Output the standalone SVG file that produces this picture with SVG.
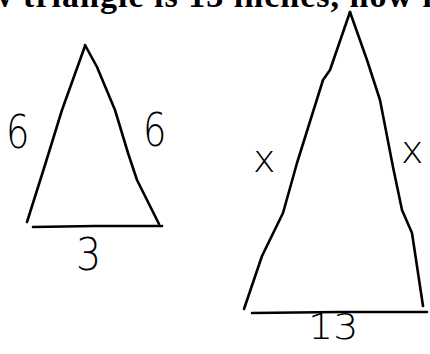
<svg xmlns="http://www.w3.org/2000/svg" width="430" height="354" viewBox="0 0 430 354">
<style>
.edge{fill:none;stroke:#000;stroke-width:2.6;stroke-linecap:round;stroke-linejoin:round}
.hand{font-family:"DejaVu Sans","Liberation Sans",sans-serif;font-weight:200;fill:#000}
.top{font-family:"Liberation Serif","Times New Roman",serif;font-weight:bold;font-size:34px;fill:#000}
</style>
<rect width="430" height="354" fill="#fff"/>
<text class="top" x="-12" y="7" textLength="444" lengthAdjust="spacing">w triangle is 13 inches, how l</text>
<g id="small-triangle">
<path class="edge" d="M85,46 L62,110 L45,165 L27,222"/>
<path class="edge" d="M85,45 L97,67 L115,110 L128,153 L137,180 L159,224"/>
<path class="edge" d="M33,227 L95,226 L162,226"/>
</g>
<g id="small-labels">
<text class="hand" x="6" y="148" font-size="46" transform="translate(6,148) scale(0.8,1) translate(-6,-148)">6</text>
<text class="hand" x="143" y="146" font-size="46" transform="translate(143,146) scale(0.8,1) translate(-143,-146)">6</text>
<text class="hand" x="76" y="270" font-size="44" transform="translate(76,270) scale(0.9,1) translate(-76,-270)">3</text>
</g>
<g id="large-triangle">
<path class="edge" d="M350,12 L330,70 L323,80 L297,163 L283,213 L262,256 L244,309"/>
<path class="edge" d="M350,12 L367,60 L380,100 L393,167 L402,210 L412,233 L423,306"/>
<path class="edge" d="M252,313 L340,312 L427,312"/>
</g>
<g id="large-labels">
<text class="hand" x="253" y="172" font-size="38">x</text>
<text class="hand" x="401" y="163" font-size="38">x</text>
<text class="hand" x="308" y="339" font-size="36" transform="translate(308,339) scale(1.1,1) translate(-308,-339)">13</text>
</g>
</svg>
